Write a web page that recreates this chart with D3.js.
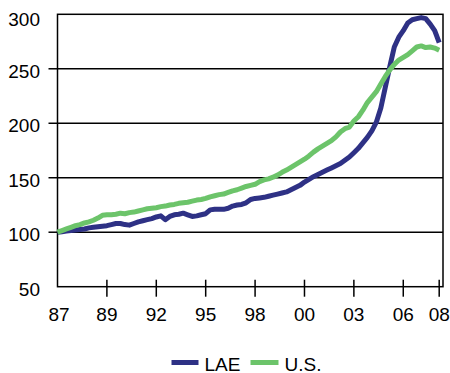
<!DOCTYPE html>
<html>
<head>
<meta charset="utf-8">
<script src="https://cdn.jsdelivr.net/npm/d3@7"></script>
<style>
  html, body { margin: 0; padding: 0; background: #fff; }
  svg { display: block; font-family: "Liberation Sans", Arial, sans-serif; }
</style>
</head>
<body>
<svg id="chart" width="450" height="373"></svg>
<script>
// Quarterly index, 1987Q1 .. 2008Q2 (86 quarters)
const lae = [
  100, 100.5, 101, 101.5, 102, 102.5, 103, 104, 104.5, 105,
  105.5, 106, 107, 108, 108, 107, 106.5, 108, 109.5, 110.5,
  111.5, 112.5, 114, 115, 111.5, 114.5, 116, 116.5, 117.5, 116,
  114.5, 115, 116, 117, 120.5, 121, 121, 121, 122, 124,
  125, 125.5, 127, 130, 131, 131.5, 132, 133, 134, 135,
  136, 137, 139, 141, 143, 146, 148.5, 151, 153, 155,
  157, 159, 161, 163, 166, 169, 173, 177, 182, 187,
  193, 201, 214, 233, 252, 270, 279, 285, 292, 295,
  296, 297, 296, 291, 285, 274
];
const us = [
  100, 101.5, 103, 104.5, 106, 107, 108.5, 109.5, 111, 113,
  115.5, 116, 116, 116.5, 117.5, 117, 118, 118.5, 119.5, 120.5,
  121.5, 122, 122.5, 123.5, 124, 125, 125.5, 126.5, 127, 127.5,
  128.5, 129.5, 130, 131, 132.5, 133.5, 134.5, 135, 136.5, 138,
  139, 140.5, 142, 143, 144, 146.5, 148, 149, 150.5, 152.5,
  155, 157, 159.5, 162, 164.5, 167, 170, 173.5, 176.5, 179,
  181.5, 184, 187.5, 192, 195, 196.5, 202, 206, 212, 219,
  224, 229, 236, 243, 249, 254, 258, 260.5, 263, 266.5,
  270, 271, 269.5, 270, 269, 267
];
const xTickIndex = [0, 11, 22, 33, 44, 55, 66, 77, 85];
const xTickLabels = ["87", "89", "92", "95", "98", "00", "03", "06", "08"];
const yTicks = [50, 100, 150, 200, 250, 300];
const seriesNames = ["LAE", "U.S."];
const seriesColors = ["#2E3185", "#6CC46A"];

(function () {
const svg = d3.select("#chart");
const pLeft = 57.5, pRight = 443, pTop = 14.3, pBottom = 286.7;
const x = d3.scaleLinear().domain([0, 85]).range([pLeft, 439.2]);
const y = d3.scaleLinear().domain([50, 300]).range([pBottom, pTop]);
const fontSize = 19;
const inner = yTicks.filter(d => d > 50 && d < 300);

// gridlines
svg.append("g").selectAll("line").data(inner).join("line")
  .attr("x1", pLeft).attr("x2", pRight)
  .attr("y1", d => y(d)).attr("y2", d => y(d))
  .attr("stroke", "#000").attr("stroke-width", 1.5);

// border box
svg.append("rect").attr("x", pLeft).attr("y", pTop)
  .attr("width", pRight - pLeft).attr("height", pBottom - pTop)
  .attr("fill", "none").attr("stroke", "#000").attr("stroke-width", 1.5);

// y ticks
svg.append("g").selectAll("line").data(inner).join("line")
  .attr("x1", pLeft - 9).attr("x2", pLeft)
  .attr("y1", d => y(d)).attr("y2", d => y(d))
  .attr("stroke", "#000").attr("stroke-width", 1.5);
svg.append("g").selectAll("text").data(yTicks).join("text")
  .attr("x", 40).attr("y", d => y(d) + (d === 300 ? 5 : 2.5))
  .attr("text-anchor", "end").attr("dominant-baseline", "central")
  .attr("font-size", fontSize).attr("fill", "#000")
  .text(d => d);

// x ticks
svg.append("g").selectAll("line").data(xTickIndex.slice(1)).join("line")
  .attr("x1", d => x(d)).attr("x2", d => x(d))
  .attr("y1", pBottom - 7).attr("y2", pBottom + 10)
  .attr("stroke", "#000").attr("stroke-width", 1.5);
svg.append("g").selectAll("text").data(xTickIndex).join("text")
  .attr("x", (d, i) => x(d) + (i === 0 ? 1.5 : 0)).attr("y", 314)
  .attr("text-anchor", "middle").attr("dominant-baseline", "central")
  .attr("font-size", fontSize).attr("fill", "#000")
  .text((d, i) => xTickLabels[i]);

// lines
const line = d3.line().x((d, i) => x(i)).y(d => y(d)).curve(d3.curveLinear);
[lae, us].forEach((s, k) => {
  svg.append("path").datum(s)
    .attr("d", line)
    .attr("fill", "none")
    .attr("stroke", seriesColors[k])
    .attr("stroke-width", 5)
    .attr("stroke-linejoin", "round");
});

// legend
const legendItems = [
  { x1: 171.5, x2: 198.5, tx: 204.5 },
  { x1: 250.5, x2: 278.5, tx: 284.5 }
];
legendItems.forEach((it, k) => {
  svg.append("line").attr("x1", it.x1).attr("x2", it.x2)
    .attr("y1", 362.5).attr("y2", 362.5)
    .attr("stroke", seriesColors[k]).attr("stroke-width", 5);
  svg.append("text").attr("x", it.tx).attr("y", 364)
    .attr("dominant-baseline", "central")
    .attr("font-size", fontSize).attr("fill", "#000")
    .text(seriesNames[k]);
});
})();
</script>
</body>
</html>
